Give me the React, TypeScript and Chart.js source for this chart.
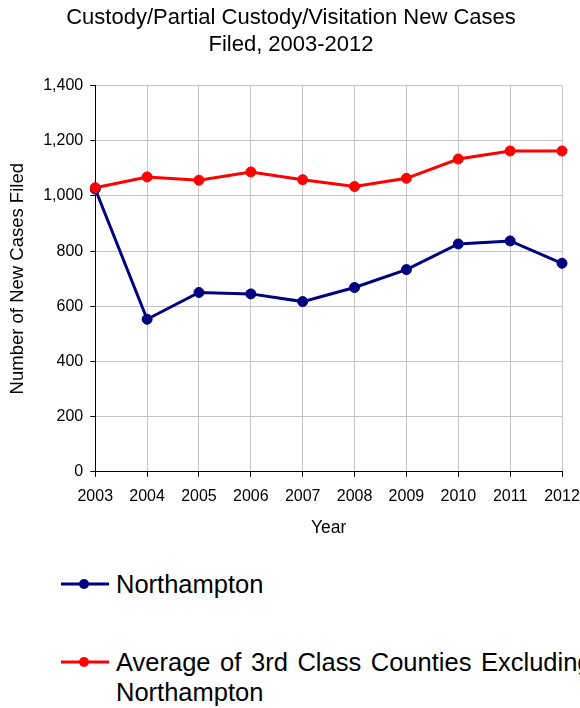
import React, { useEffect, useRef } from "react";
import { Chart, registerables } from "chart.js";

Chart.register(...registerables);

const years = ["2003", "2004", "2005", "2006", "2007", "2008", "2009", "2010", "2011", "2012"];
const northampton = [1025, 553, 650, 645, 617, 668, 733, 826, 837, 756];
const averageThirdClass = [1030, 1069, 1057, 1087, 1059, 1034, 1064, 1134, 1163, 1163];
const seriesLabels = ["Northampton", "Average of 3rd Class Counties Excluding Northampton"];
const seriesColors = ["#000080", "#ff0000"];
const titleLines = ["Custody/Partial Custody/Visitation New Cases", "Filed, 2003-2012"];
const yTitle = "Number of New Cases Filed";
const xTitle = "Year";

const FONT = "'Liberation Sans', Arial, Helvetica, sans-serif";

function LegendMarker({ color }: { color: string }) {
  return (
    <svg width={52} height={30} style={{ position: "absolute", left: 59, top: 0 }}>
      <line x1={2} y1={15} x2={50} y2={15} stroke={color} strokeWidth={3} />
      <circle cx={25} cy={15} r={5} fill={color} />
    </svg>
  );
}

export default function App() {
  const ref = useRef<HTMLCanvasElement | null>(null);

  useEffect(() => {
    document.body.style.margin = "0";
    const canvas = ref.current;
    if (!canvas) return;
    const chart = new Chart(canvas, {
      type: "line",
      data: {
        labels: years,
        datasets: [
          {
            label: seriesLabels[0],
            data: northampton,
            borderColor: seriesColors[0],
            backgroundColor: seriesColors[0],
            pointBackgroundColor: seriesColors[0],
            pointBorderColor: seriesColors[0],
            borderWidth: 3,
            pointRadius: 5,
            pointBorderWidth: 1,
            tension: 0,
            order: 1,
          },
          {
            label: seriesLabels[1],
            data: averageThirdClass,
            borderColor: seriesColors[1],
            backgroundColor: seriesColors[1],
            pointBackgroundColor: seriesColors[1],
            pointBorderColor: seriesColors[1],
            borderWidth: 3,
            pointRadius: 5,
            pointBorderWidth: 1,
            tension: 0,
            order: 0,
          },
        ],
      },
      options: {
        responsive: false,
        animation: false,
        devicePixelRatio: 1,
        layout: { padding: { left: 2, right: 0, top: 0, bottom: 3 } },
        plugins: {
          legend: { display: false },
          tooltip: { enabled: false },
          title: {
            display: true,
            text: titleLines,
            color: "#000",
            font: { family: FONT, size: 22, weight: "normal", lineHeight: 1.23 },
            padding: { top: 4.5, bottom: 27 },
          },
        },
        scales: {
          x: {
            type: "category",
            offset: false,
            afterFit: (scale: any) => {
              scale.paddingRight = 18;
            },
            grid: {
              color: "#c4c4c4",
              lineWidth: 1,
              tickColor: "#000",
              tickLength: 5,
              drawTicks: true,
            },
            border: { color: "#000", width: 1 },
            ticks: {
              color: "#000",
              font: { family: FONT, size: 16 },
              padding: 10,
              maxRotation: 0,
              autoSkip: false,
            },
            title: {
              display: true,
              text: xTitle,
              color: "#000",
              font: { family: FONT, size: 17.5 },
              padding: { top: 2, bottom: 4 },
            },
          },
          y: {
            min: 0,
            max: 1400,
            grid: {
              color: "#c4c4c4",
              lineWidth: 1,
              tickColor: "#000",
              tickLength: 5,
            },
            border: { color: "#000", width: 1 },
            ticks: {
              stepSize: 200,
              color: "#000",
              font: { family: FONT, size: 16 },
              padding: 7,
            },
            title: {
              display: true,
              text: yTitle,
              color: "#000",
              font: { family: FONT, size: 18.5 },
              padding: { top: 5, bottom: 7 },
            },
          },
        },
      },
    });
    return () => chart.destroy();
  }, []);

  return (
    <div
      style={{
        position: "relative",
        width: 580,
        height: 708,
        overflow: "hidden",
        background: "#fff",
        fontFamily: FONT,
      }}
    >
      <canvas ref={ref} width={580} height={546} style={{ display: "block" }} />
      {seriesLabels.map((label, i) => (
        <div
          key={label}
          style={{
            position: "absolute",
            left: 0,
            top: i === 0 ? 569 : 647,
            width: 700,
            height: 60,
          }}
        >
          <LegendMarker color={seriesColors[i]} />
          <div
            style={{
              position: "absolute",
              left: 116,
              top: 0,
              width: 520,
              fontSize: 25.5,
              lineHeight: "30px",
              wordSpacing: 2.5,
              color: "#000",
              whiteSpace: "normal",
            }}
          >
            {label}
          </div>
        </div>
      ))}
    </div>
  );
}
